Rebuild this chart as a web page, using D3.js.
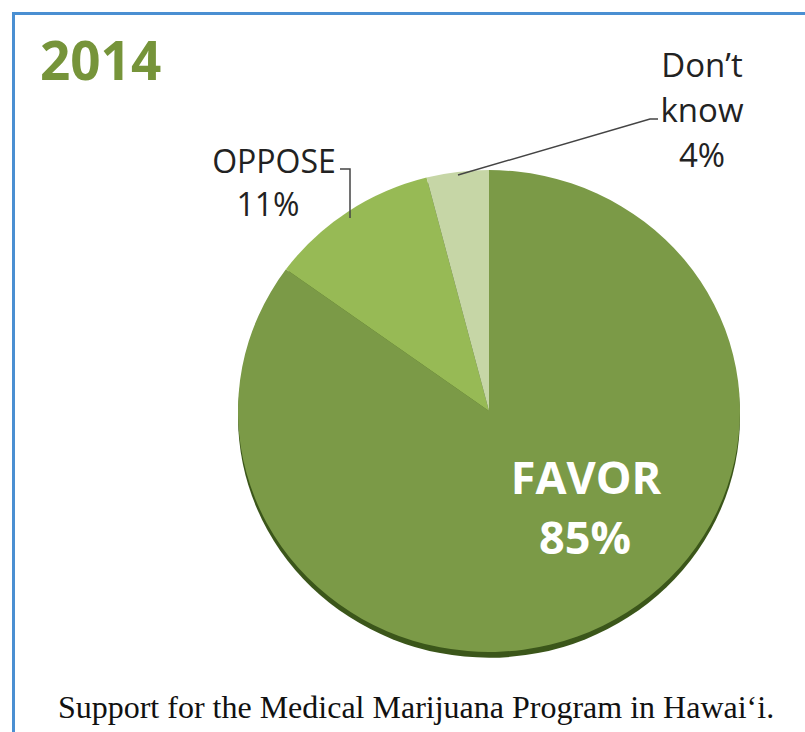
<!DOCTYPE html>
<html>
<head>
<meta charset="utf-8">
<script src="https://cdn.jsdelivr.net/npm/d3@7"></script>
<style>
  body { margin: 0; background: #fff; }
  svg { display: block; }
</style>
</head>
<body>
<svg width="805" height="732"></svg>
<script>
// survey answers, 2014
var categories = ['FAVOR', 'OPPOSE', 'Don\u2019t know']
var values = [85, 11, 4]
var colors = ['#7b9a47', '#97ba55', '#c6d6a6']

var svg = d3.select('svg')
var cx = 489, cy = 411, r = 251

// frame (top + left blue rule)
svg.append('path')
    .attr('d', 'M13.5,732 L13.5,13.5 L805,13.5')
    .attr('fill', 'none')
    .attr('stroke', '#4a8fd2')
    .attr('stroke-width', 3)

svg.append('text')
    .text('2014')
    .attr('x', 40)
    .attr('y', 80)
    .attr('font-family', 'Open Sans, sans-serif')
    .attr('font-weight', 'bold')
    .attr('font-size', 53)
    .attr('fill', '#76943a')

var pie = d3.pie().sort(null).value(function(d){ return d })
var arcs = pie(values)
var arc = d3.arc().innerRadius(0).outerRadius(r)

// pie is a little squashed vertically in the original
var g = svg.append('g').attr('transform', 'translate(' + cx + ',' + cy + ') scale(1,0.96)')

// dark rim under the pie
g.append('circle')
    .attr('cx', 0)
    .attr('cy', 6)
    .attr('r', r)
    .attr('fill', '#3b561a')

g.selectAll('path.slice')
    .data(arcs)
    .enter()
    .append('path')
    .attr('class', 'slice')
    .attr('d', arc)
    .attr('fill', function(d, i){ return colors[i] })

// FAVOR label inside
var font = 'Open Sans, sans-serif'
svg.append('text')
    .text(categories[0])
    .attr('x', 586)
    .attr('y', 494)
    .attr('text-anchor', 'middle')
    .attr('font-family', font)
    .attr('font-weight', 'bold')
    .attr('font-size', 45)
    .attr('fill', '#fff')
svg.append('text')
    .text(values[0] + '%')
    .attr('x', 585)
    .attr('y', 554)
    .attr('text-anchor', 'middle')
    .attr('font-family', font)
    .attr('font-weight', 'bold')
    .attr('font-size', 45)
    .attr('fill', '#fff')

// OPPOSE label + leader
svg.append('text')
    .text(categories[1])
    .attr('x', 274)
    .attr('y', 173)
    .attr('text-anchor', 'middle')
    .attr('font-family', font)
    .attr('font-size', 32)
    .attr('fill', '#222')
svg.append('text')
    .text(values[1] + '%')
    .attr('x', 268)
    .attr('y', 216)
    .attr('text-anchor', 'middle')
    .attr('font-family', font)
    .attr('font-size', 32)
    .attr('fill', '#222')
svg.append('path')
    .attr('d', 'M340,169 L350,169 L350,218')
    .attr('fill', 'none')
    .attr('stroke', '#444')
    .attr('stroke-width', 1.5)

// Don't know label + leader
var dk = ['Don\u2019t', 'know', values[2] + '%']
svg.selectAll('text.dk')
    .data(dk)
    .enter()
    .append('text')
    .attr('class', 'dk')
    .text(function(d){ return d })
    .attr('x', 702)
    .attr('y', function(d, i){ return 77 + i * 45 })
    .attr('text-anchor', 'middle')
    .attr('font-family', font)
    .attr('font-size', 33)
    .attr('fill', '#222')
svg.append('path')
    .attr('d', 'M658,119 L650,119 L458,175')
    .attr('fill', 'none')
    .attr('stroke', '#444')
    .attr('stroke-width', 1.5)

// caption
svg.append('text')
    .text('Support for the Medical Marijuana Program in Hawai\u2018i.')
    .attr('x', 416)
    .attr('y', 718)
    .attr('text-anchor', 'middle')
    .attr('font-family', 'Liberation Serif, Times New Roman, serif')
    .attr('font-size', 32)
    .attr('fill', '#111')
</script>
</body>
</html>
